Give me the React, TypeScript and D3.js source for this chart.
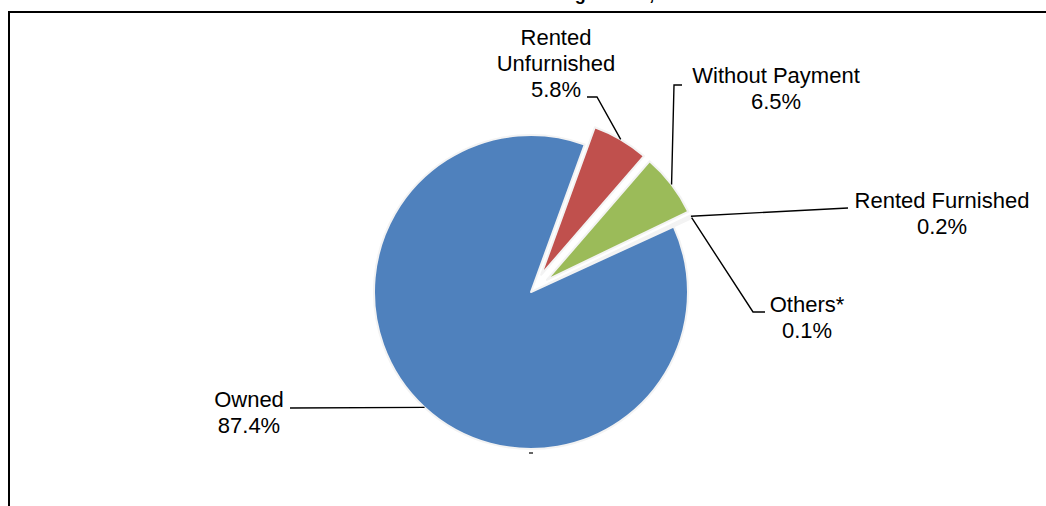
import { pie, arc, PieArcDatum } from "d3";

// slice order follows the chart, clockwise from the top
const CATEGORIES = [
  "Rented Unfurnished",
  "Without Payment",
  "Rented Furnished",
  "Others*",
  "Owned",
] as const;
const SHARES = [5.8, 6.5, 0.2, 0.1, 87.4];
const LABEL_LINES = [
  ["Rented", "Unfurnished", "5.8%"],
  ["Without Payment", "6.5%"],
  ["Rented Furnished", "0.2%"],
  ["Others*", "0.1%"],
  ["Owned", "87.4%"],
];
const COLORS = ["#C0504D", "#9BBB59", "#9BBB59", "#4F81BD", "#4F81BD"];
const EXPLODED = [true, true, true, true, false];

const W = 1046;
const H = 506;
const CX = 531;
const CY = 292;
const R = 157;
const EXPLODE = 20;
const START = (20 * Math.PI) / 180;
const FONT = "'Liberation Sans', Arial, sans-serif";

// label layout: centre x, first baseline, leader elbow points (label side)
const LABEL_POS = [
  { x: 556, y: 45, elbow: [[587, 97], [597, 97]] },
  { x: 776, y: 83, elbow: [[682, 85], [674, 85]] },
  { x: 942, y: 208, elbow: [[848, 208]] },
  { x: 807, y: 312, elbow: [[765, 312], [753, 312]] },
  { x: 249, y: 407, elbow: [[290, 408]] },
];

type Row = { name: string; value: number; i: number };

const rows: Row[] = CATEGORIES.map((name, i) => ({ name, value: SHARES[i], i }));

const pieGen = pie<Row>()
  .sort(null)
  .value((d) => d.value)
  .startAngle(START)
  .endAngle(START + 2 * Math.PI);

const arcGen = arc<PieArcDatum<Row>>().innerRadius(0).outerRadius(R);

const offsetOf = (d: PieArcDatum<Row>) => {
  if (!EXPLODED[d.data.i]) return [0, 0];
  const mid = (d.startAngle + d.endAngle) / 2;
  return [EXPLODE * Math.sin(mid), -EXPLODE * Math.cos(mid)];
};

const anchorOf = (d: PieArcDatum<Row>) => {
  const [ox, oy] = offsetOf(d);
  const mid = (d.startAngle + d.endAngle) / 2;
  return [CX + ox + R * Math.sin(mid), CY + oy - R * Math.cos(mid)];
};

export default function App() {
  const arcs = pieGen(rows);
  return (
    <svg
      width={W}
      height={H}
      style={{ position: "absolute", left: 0, top: 0, background: "#fff" }}
    >
      {/* clipped title, only the descenders show */}
      <text
        x={508}
        y={-0.5}
        textAnchor="middle"
        fontFamily={FONT}
        fontWeight="bold"
        fontSize={18}
      >
        Households and Their Dwelling Tenure, 2011
      </text>

      {/* frame */}
      <line x1={8} y1={12} x2={W} y2={12} stroke="#000" strokeWidth={2} />
      <line x1={9} y1={11} x2={9} y2={H} stroke="#000" strokeWidth={2} />

      <g>
        {arcs.map((d, i) => {
          const [ox, oy] = offsetOf(d);
          return (
            <path
              key={i}
              d={arcGen(d) ?? ""}
              transform={`translate(${CX + ox},${CY + oy})`}
              fill={COLORS[i]}
              stroke="#f3f3f3"
              strokeWidth={2}
              strokeLinejoin="round"
            />
          );
        })}
      </g>

      {/* leader lines */}
      {arcs.map((d, i) => {
        const pts = [...LABEL_POS[i].elbow, anchorOf(d)];
        return (
          <polyline
            key={i}
            points={pts.map((p) => p.join(",")).join(" ")}
            fill="none"
            stroke="#000"
            strokeWidth={1.4}
          />
        );
      })}
      <line x1={529} y1={453} x2={533} y2={453} stroke="#000" strokeWidth={1.2} />

      {/* labels */}
      {LABEL_LINES.map((lines, i) => (
        <text
          key={i}
          x={LABEL_POS[i].x}
          y={LABEL_POS[i].y}
          textAnchor="middle"
          fontFamily={FONT}
          fontSize={22}
          fill="#000"
        >
          {lines.map((t, j) => (
            <tspan key={j} x={LABEL_POS[i].x} dy={j === 0 ? 0 : 26}>
              {t}
            </tspan>
          ))}
        </text>
      ))}
    </svg>
  );
}
